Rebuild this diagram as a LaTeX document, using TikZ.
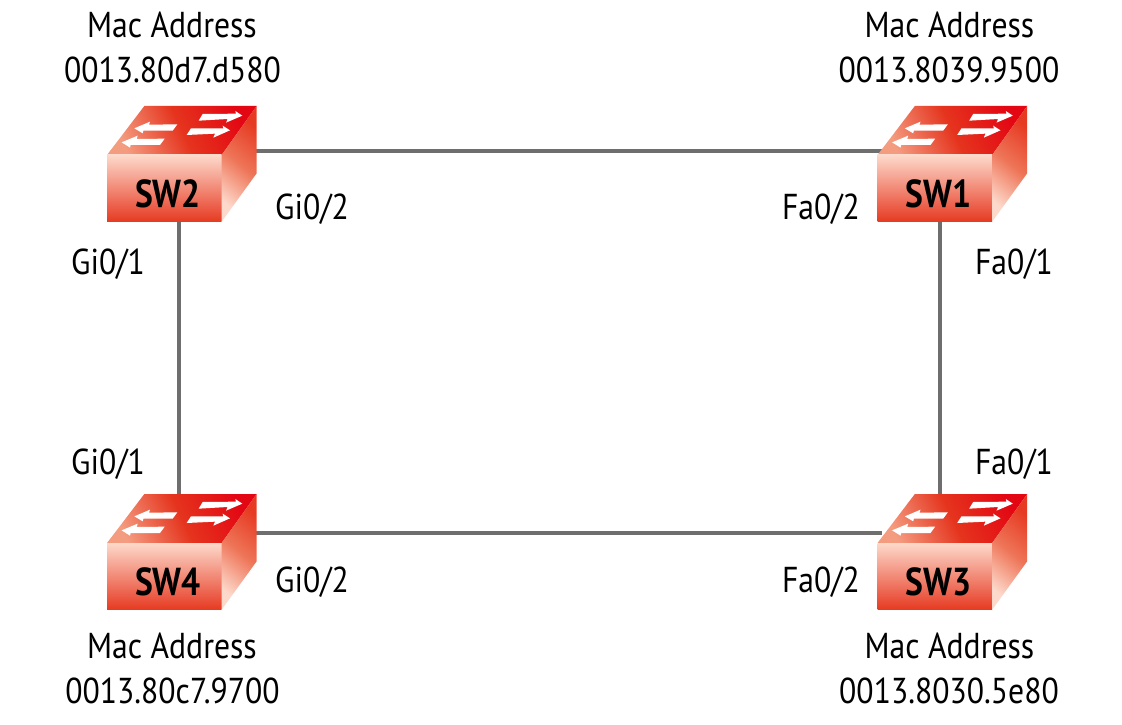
\documentclass[tikz,border=0pt]{standalone}
\usepackage{fontspec}
\setmainfont{PT Sans}
\newfontfamily\lblfont[FakeStretch=0.88]{PT Sans}
\newfontfamily\swfont[FakeStretch=0.86]{PT Sans Bold}
\definecolor{linkgray}{HTML}{6E6E6E}
\definecolor{swred}{HTML}{E30613}
\definecolor{swmid}{HTML}{E63A22}
\definecolor{swlight}{HTML}{FDD9CB}
\definecolor{swsalmon}{HTML}{F49C80}
\definecolor{swmidtop}{HTML}{E5341E}
\definecolor{swmidside}{HTML}{EE7558}
\tikzset{
  x=1pt,y=-1pt,
  link/.style={draw=linkgray,line width=4.4pt},
  lbl/.style={font=\fontsize{36}{36}\selectfont\lblfont,text=black,inner sep=0pt,anchor=base},
  swlabel/.style={font=\fontsize{39}{39}\selectfont\swfont,text=black,inner sep=0pt,anchor=base},
  arrowshape/.style={fill=white,draw=none},
}
% name, origin of the icon (x,y), label
\newcommand{\netswitch}[4]{%
  \begin{scope}[shift={(#2-17,#3-16)},x=0.33333pt,y=-0.33333pt]
    \shade[left color=swsalmon,right color=swred,middle color=swmidtop,shading angle=115]
      (51,195) -- (163,48) -- (500,48) -- (395,195) -- cycle;
    \shade[top color=swlight,bottom color=swmid]
      (51,195) -- (395,195) -- (395,395) -- (51,395) -- cycle;
    \shade[left color=swlight,right color=swmid,middle color=swmidside,shading angle=140]
      (395,195) -- (500,48) -- (500,250) -- (395,395) -- cycle;
    \fill[arrowshape] (338,72) -- (438,71) -- (436,63) -- (457,77) -- (408,98) -- (413,87) -- (326,92) -- cycle;
    \fill[arrowshape] (303,115) -- (400,115) -- (398,107) -- (420,121) -- (370,143) -- (375,131) -- (290,135) -- cycle;
    \fill[arrowshape] (133,115) -- (180,95) -- (177,104) -- (262,103) -- (248,122) -- (160,122) -- (158,130) -- cycle;
    \fill[arrowshape] (95,157) -- (143,137) -- (140,147) -- (224,146) -- (210,165) -- (122,165) -- (120,173) -- cycle;
  \end{scope}
  \node[swlabel] (#1) at (#2+61,#3+101.7) {#4};
}
\begin{document}
\begin{tikzpicture}
\useasboundingbox (0,0) rectangle (1122,725);
% connector end points
\coordinate (sw2e) at (255,151);
\coordinate (sw1w) at (882,151);
\coordinate (sw4e) at (255,533);
\coordinate (sw3w) at (882,533);
\coordinate (sw2s) at (179,220);
\coordinate (sw4n) at (179,496);
\coordinate (sw1s) at (940,220);
\coordinate (sw3n) at (940,496);
\draw[link] (sw2e) -- (sw1w);
\draw[link] (sw4e) -- (sw3w);
\draw[link] (sw2s) -- (sw4n);
\draw[link] (sw1s) -- (sw3n);
\netswitch{sw2}{107}{106}{SW2}
\netswitch{sw1}{877.5}{106}{SW1}
\netswitch{sw4}{107}{494}{SW4}
\netswitch{sw3}{877.5}{494}{SW3}
\node[lbl] (mac2a) at (172,37.5) {Mac Address};
\node[lbl] (mac2b) at (172.5,82.5) {0013.80d7.d580};
\node[lbl] (mac1a) at (949.5,37.5) {Mac Address};
\node[lbl] (mac1b) at (949,82.5) {0013.8039.9500};
\node[lbl] (mac4a) at (172,658) {Mac Address};
\node[lbl] (mac4b) at (172.5,703.5) {0013.80c7.9700};
\node[lbl] (mac3a) at (949.5,658) {Mac Address};
\node[lbl] (mac3b) at (949,703.5) {0013.8030.5e80};
\node[lbl] (p2e) at (312,219.5) {Gi0/2};
\node[lbl] (p2s) at (108,274.5) {Gi0/1};
\node[lbl] (p1w) at (821,219.5) {Fa0/2};
\node[lbl] (p1s) at (1014,274.5) {Fa0/1};
\node[lbl] (p4n) at (108,474.5) {Gi0/1};
\node[lbl] (p3n) at (1014,474.5) {Fa0/1};
\node[lbl] (p4e) at (312,592) {Gi0/2};
\node[lbl] (p3w) at (821,592) {Fa0/2};
\end{tikzpicture}
\end{document}
